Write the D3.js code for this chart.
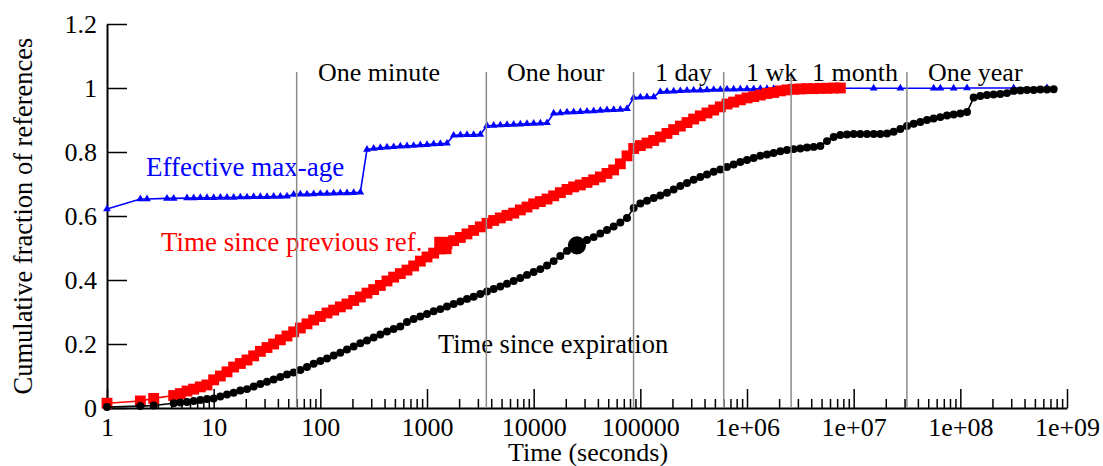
<!DOCTYPE html>
<html><head><meta charset="utf-8">
<script src="https://cdn.jsdelivr.net/npm/d3@7"></script>
<style>
html,body{margin:0;padding:0;background:#fff;}
svg text{font-family:"Liberation Serif","Times New Roman",serif;}
</style></head>
<body><svg id="c" width="1103" height="466"></svg>
<script>
// Log-spaced bins (1/16 decade), seconds
const binTimes = [
1,1.155,1.334,1.54,1.778,2.054,2.371,2.738,3.162,3.652,4.217,4.87,5.623,6.494,7.499,8.66,
10,11.55,13.34,15.4,17.78,20.54,23.71,27.38,31.62,36.52,42.17,48.7,56.23,64.94,74.99,86.6,
100,115.5,133.4,154,177.8,205.4,237.1,273.8,316.2,365.2,421.7,487,562.3,649.4,749.9,866,
1e3,1.155e3,1.334e3,1.54e3,1.778e3,2.054e3,2.371e3,2.738e3,3.162e3,3.652e3,4.217e3,4.87e3,5.623e3,6.494e3,7.499e3,8.66e3,
1e4,1.155e4,1.334e4,1.54e4,1.778e4,2.054e4,2.371e4,2.738e4,3.162e4,3.652e4,4.217e4,4.87e4,5.623e4,6.494e4,7.499e4,8.66e4,
1e5,1.155e5,1.334e5,1.54e5,1.778e5,2.054e5,2.371e5,2.738e5,3.162e5,3.652e5,4.217e5,4.87e5,5.623e5,6.494e5,7.499e5,8.66e5,
1e6,1.155e6,1.334e6,1.54e6,1.778e6,2.054e6,2.371e6,2.738e6,3.162e6,3.652e6,4.217e6,4.87e6,5.623e6,6.494e6,7.499e6,8.66e6,
1e7,1.155e7,1.334e7,1.54e7,1.778e7,2.054e7,2.371e7,2.738e7,3.162e7,3.652e7,4.217e7,4.87e7,5.623e7,6.494e7,7.499e7,8.66e7,
1e8,1.155e8,1.334e8,1.54e8,1.778e8,2.054e8,2.371e8,2.738e8,3.162e8,3.652e8,4.217e8,4.87e8,5.623e8,6.494e8,7.499e8,8.66e8
];
const maxAgeValues = [
0.622,null,null,null,null,0.653,0.653,null,null,0.655,0.655,null,0.656,0.656,0.657,0.657,
0.657,0.658,0.658,0.658,0.659,0.659,0.660,0.660,0.660,0.661,0.661,0.662,0.667,0.668,0.668,0.669,
0.670,0.670,0.671,0.672,0.672,0.673,0.674,0.808,0.811,0.813,0.815,0.816,0.818,0.819,0.820,0.822,
0.823,0.825,0.826,0.827,0.852,0.853,0.854,0.854,0.855,0.882,0.883,0.884,0.885,0.886,0.887,0.888,
0.889,0.890,0.891,0.921,0.922,0.924,0.925,0.926,0.927,0.928,0.930,0.931,0.932,0.933,0.935,0.970,
0.971,0.972,0.972,0.988,0.989,0.990,0.991,0.992,0.993,0.993,0.994,0.995,0.995,0.996,0.996,0.997,
0.997,0.997,0.998,0.998,0.998,null,0.998,null,0.999,null,null,null,null,null,null,null,
null,null,null,0.999,null,null,null,0.999,null,null,null,null,0.999,0.999,null,0.999,
null,1.0,null,null,null,null,null,null,1.0,null,null,null,null,1.0,null,null
];
const prevRefValues = [
0.015,null,null,null,null,0.022,null,0.030,null,null,0.039,0.045,0.053,0.059,0.066,0.072,
0.088,0.100,0.113,0.128,0.139,0.150,0.163,0.177,0.189,0.200,0.213,0.225,0.238,0.250,0.263,0.275,
0.286,0.297,0.306,0.316,0.325,0.336,0.347,0.359,0.370,0.383,0.397,0.409,0.420,0.431,0.444,0.459,
0.472,0.484,0.497,0.513,0.523,0.533,0.544,0.555,0.566,0.577,0.586,0.594,0.602,0.609,0.619,0.628,
0.638,0.645,0.653,0.663,0.673,0.683,0.691,0.697,0.705,0.713,0.722,0.733,0.744,0.763,0.788,0.811,
0.820,0.828,0.836,0.847,0.858,0.870,0.881,0.892,0.903,0.913,0.922,0.931,0.941,0.950,0.956,0.963,
0.969,0.973,0.978,0.983,0.986,0.991,0.994,0.996,0.997,0.998,0.998,0.999,0.999,1.0,1.0,null,
null,null,null,null,null,null,null,null,null,null,null,null,null,null,null,null,
null,null,null,null,null,null,null,null,null,null,null,null,null,null,null,null
];
const expirationValues = [
0.003,null,null,null,null,0.006,null,0.008,null,null,0.015,0.017,0.019,0.022,0.025,0.028,
0.030,0.036,0.042,0.048,0.055,0.059,0.067,0.075,0.082,0.089,0.097,0.105,0.111,0.119,0.128,0.138,
0.147,0.155,0.164,0.173,0.183,0.192,0.202,0.211,0.220,0.230,0.239,0.247,0.255,0.269,0.278,0.286,
0.294,0.302,0.309,0.317,0.325,0.333,0.341,0.348,0.356,0.364,0.372,0.380,0.388,0.397,0.406,0.416,
0.425,0.434,0.445,0.459,0.475,0.491,0.503,0.514,0.525,0.534,0.545,0.556,0.567,0.580,0.594,0.625,
0.639,0.648,0.656,0.664,0.673,0.683,0.694,0.703,0.713,0.722,0.730,0.738,0.745,0.753,0.761,0.769,
0.775,0.781,0.788,0.792,0.797,0.802,0.806,0.809,0.811,0.814,0.816,0.819,0.834,0.847,0.853,0.855,
0.856,0.856,0.856,0.856,0.856,0.858,0.863,0.872,0.881,0.888,0.894,0.900,0.905,0.909,0.914,0.917,
0.920,0.925,0.970,0.975,0.978,0.980,0.981,0.984,0.991,0.992,0.994,0.994,0.995,0.995,0.996,null
];
// medians (large markers)
const prevRefMedian = [1410, 0.508];
const expirationMedian = [25470, 0.508];

const periodTimes = [60, 3600, 86400, 604800, 2592000, 31536000];
const periodLabels = ["One minute", "One hour", "1 day", "1 wk", "1 month", "One year"];
const periodLabelX = [318, 507, 655, 746, 812, 928];

const xTickValues = [1,1e1,1e2,1e3,1e4,1e5,1e6,1e7,1e8,1e9];
const xTickLabels = ["1","10","100","1000","10000","100000","1e+06","1e+07","1e+08","1e+09"];
const yTickValues = [0,0.2,0.4,0.6,0.8,1.0,1.2];
const yTickLabels = ["0","0.2","0.4","0.6","0.8","1","1.2"];

const svg = d3.select("#c");
const x = d3.scaleLog().domain([1, 1e9]).range([107, 1067]);
const y = d3.scaleLinear().domain([0, 1.2]).range([408, 24]);
const FS = 26;

// axes
const yAxis = d3.axisLeft(y).tickValues(yTickValues).tickSize(-20).tickSizeOuter(0).tickPadding(10)
  .tickFormat((d,i) => yTickLabels[i]);
const gy = svg.append("g").attr("transform","translate(107,0)").call(yAxis);
const xAxis = d3.axisBottom(x).tickValues(xTickValues).tickSize(-19).tickSizeOuter(0).tickPadding(10)
  .tickFormat((d,i) => xTickLabels[i]);
const gx = svg.append("g").attr("transform","translate(0,408)").call(xAxis);
const minor = x.ticks().filter(t => !xTickValues.includes(t));
const gxm = svg.append("g").attr("transform","translate(0,408)")
  .call(d3.axisBottom(x).tickValues(minor).tickSize(-9).tickSizeOuter(0).tickFormat(""));
gxm.select(".domain").remove();
[gx, gy, gxm].forEach(g => {
  g.selectAll("path.domain").attr("stroke","#000").attr("stroke-width",2);
  g.selectAll(".tick line").attr("stroke","#000").attr("stroke-width",1.5);
  g.selectAll("text").attr("font-size",FS).attr("fill","#000")
    .attr("font-family","Liberation Serif, serif");
});

// axis titles
svg.append("text").attr("x",588).attr("y",461).attr("text-anchor","middle")
  .attr("font-size",FS).text("Time (seconds)");
svg.append("text").attr("transform","translate(32,216) rotate(-90)").attr("text-anchor","middle")
  .attr("font-size",26.5).text("Cumulative fraction of references");

function pts(vals){ return binTimes.map((t,i)=>[t, vals[i]]).filter(d => d[1] != null); }
const line = d3.line().x(d => x(d[0])).y(d => y(d[1]));

function series(vals, color, symType, size){
  const p = pts(vals);
  svg.append("path").attr("d", line(p)).attr("fill","none").attr("stroke",color).attr("stroke-width",1.6);
  svg.append("g").selectAll("path").data(p).join("path")
    .attr("transform", d => `translate(${x(d[0])},${y(d[1])})`)
    .attr("d", d3.symbol().type(symType).size(size)).attr("fill", color);
}
series(maxAgeValues, "#0000ff", d3.symbolTriangle, 26);
series(prevRefValues, "#ff0000", d3.symbolSquare, 118);
series(expirationValues, "#000000", d3.symbolCircle, 50);

svg.append("path").attr("transform",`translate(${x(prevRefMedian[0])},${y(prevRefMedian[1])})`)
  .attr("d", d3.symbol().type(d3.symbolSquare).size(300)).attr("fill","#ff0000");
svg.append("path").attr("transform",`translate(${x(expirationMedian[0])},${y(expirationMedian[1])})`)
  .attr("d", d3.symbol().type(d3.symbolCircle).size(260)).attr("fill","#000");

// series labels
svg.append("text").attr("x",146).attr("y",176).attr("font-size",27).attr("fill","#0000ff").text("Effective max-age");
svg.append("text").attr("x",161).attr("y",251).attr("font-size",27).attr("fill","#ff0000").text("Time since previous ref.");
svg.append("text").attr("x",438).attr("y",353).attr("font-size",26.5).attr("fill","#000").text("Time since expiration");

// period lines & labels
svg.append("g").selectAll("line").data(periodTimes).join("line")
  .attr("x1", d => x(d)).attr("x2", d => x(d)).attr("y1", 72).attr("y2", 408)
  .attr("stroke","#8c8c8c").attr("stroke-width",1.5);
svg.append("g").selectAll("text").data(periodLabels).join("text")
  .attr("x",(d,i)=>periodLabelX[i]).attr("y",81).attr("font-size",FS).attr("fill","#000").text(d=>d);
</script></body></html>
